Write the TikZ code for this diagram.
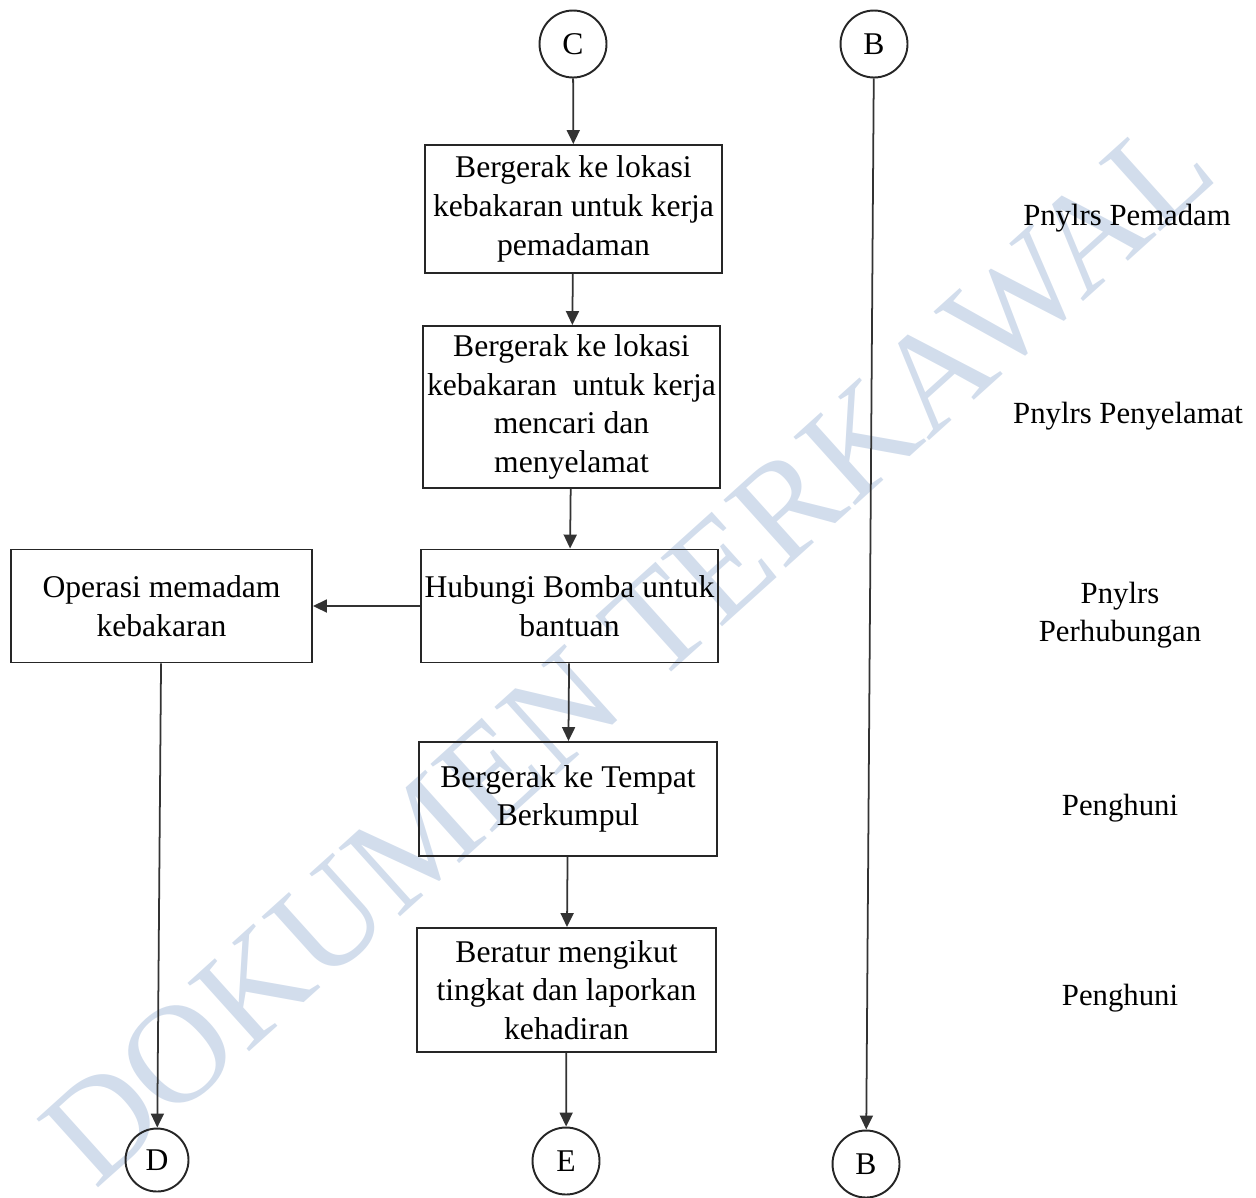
\documentclass[tikz,border=0pt]{standalone}
\usepackage{fontspec}
\setmainfont{Liberation Serif}
\usetikzlibrary{arrows.meta}
\definecolor{wmark}{RGB}{210,221,236}

\begin{document}
\begin{tikzpicture}[x = 0.02cm, y = -0.02cm,
  box/.style = {draw = black!85, line width = 1.1pt, align = center, inner sep = 0pt, font = \fontsize{18}{22}\selectfont},
  conn/.style = {draw = black!85, circle, line width = 1.1pt, inner sep = 0pt, minimum size = 1.34cm, font = \fontsize{18}{22}\selectfont},
  role/.style = {align = center, font = \fontsize{17.5}{22}\selectfont},
  flow/.style = {draw = black!80, line width = 1pt, -{Triangle[length = 0.28cm, width = 0.26cm]}}]
\useasboundingbox (0,0) rectangle (1256,1197);
%watermark
\node [rotate = 42, text = wmark, font = \fontsize{80}{80}\selectfont] (W) at (628,650) {DOKUMEN TERKAWAL};
%connectors top and bottom
\node [conn] (C) at (573,44) {C};
\node [conn] (Bt) at (874,44) {B};
\node [conn, minimum size = 1.26cm] (D) at (157,1160) {D};
\node [conn] (E) at (566,1161) {E};
\node [conn] (Bb) at (866,1164) {B};
%process boxes
\node [box, minimum width = 5.94cm, minimum height = 2.56cm] (P1) at (573.5,209) {Bergerak ke lokasi\\kebakaran untuk kerja\\pemadaman};
\node [box, minimum width = 5.94cm, minimum height = 3.24cm] (P2) at (571.5,407) {Bergerak ke lokasi\\kebakaran \ untuk kerja\\mencari dan\\menyelamat};
\node [box, minimum width = 5.94cm, minimum height = 2.26cm] (P3) at (569.5,606) {Hubungi Bomba untuk\\bantuan};
\node [box, minimum width = 6.02cm, minimum height = 2.26cm] (P0) at (161.5,606) {Operasi memadam\\kebakaran};
\node [box, minimum width = 5.96cm, minimum height = 2.28cm] (P4) at (568,799) {Bergerak ke Tempat\\Berkumpul};
\node [box, minimum width = 5.98cm, minimum height = 2.48cm] (P5) at (566.5,990) {Beratur mengikut\\tingkat dan laporkan\\kehadiran};
%roles on the right
\node [role] (L1) at (1127,218) {Pnylrs Pemadam};
\node [role] (L2) at (1128,416) {Pnylrs Penyelamat};
\node [role] (L3) at (1120,615) {Pnylrs\\Perhubungan};
\node [role] (L4) at (1120,808) {Penghuni};
\node [role] (L5) at (1120,998) {Penghuni};
%arrows
\draw [flow] (C) -- (P1);
\draw [flow] (P1) -- (P2);
\draw [flow] (P2) -- (P3);
\draw [flow] (P3) -- (P0);
\draw [flow] (P0) -- (D);
\draw [flow] (P3) -- (P4);
\draw [flow] (P4) -- (P5);
\draw [flow] (P5) -- (E);
\draw [flow] (Bt) -- (Bb);
\end{tikzpicture}
\end{document}
